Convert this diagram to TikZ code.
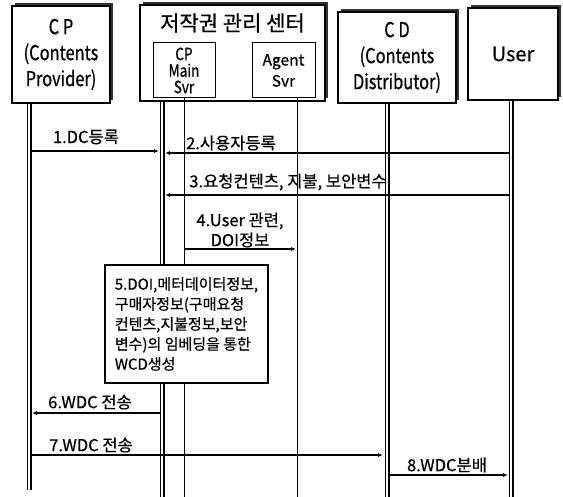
\documentclass[tikz,border=0pt]{standalone}
\usepackage{fontspec}
\setmainfont{Noto Sans CJK KR}[FakeBold=0.6]
\newfontfamily\narrow{Noto Sans CJK KR}[FakeStretch=0.8,FakeBold=0.6]
\usetikzlibrary{arrows.meta}
\begin{document}
\begin{tikzpicture}[x=1pt,y=-1pt,
  actor/.style={draw=black, line width=1.1pt, fill=white, inner sep=0pt, align=center},
  shadowfill/.style={fill=black!80},
  inner/.style={draw=black, line width=1pt, fill=white, inner sep=0pt, align=center},
  bigtxt/.style={font=\narrow\fontsize{20.5}{26}\selectfont},
  lbl/.style={font=\fontsize{16.5}{20}\selectfont, inner sep=0pt},
  thinlife/.style={line width=0.9pt},
  thicklife/.style={line width=1.8pt},
  msg/.style={-{Latex[length=5pt,width=4pt]}},
]
\useasboundingbox (0,0) rectangle (563,497);
\fill[white] (0,0) rectangle (563,497);

% drop shadows (up and to the right)
\fill[shadowfill] (15,3) rectangle (113,100);
\fill[shadowfill] (143,2) rectangle (328,98);
\fill[shadowfill] (341,9) rectangle (459,100);
\fill[shadowfill] (471,5) rectangle (561,97);

% actor boxes
\node[actor, bigtxt, minimum width=98pt, minimum height=97pt] (cp) at (61,54.5) {C P\\(Contents\\Provider)};
\node[actor, minimum width=185pt, minimum height=96pt] (ctr) at (232.5,53) {};
\node[font=\fontsize{21}{22}\selectfont, inner sep=0pt] (ctrt) at (232.5,23) {저작권 관리 센터};
\node[inner, font=\narrow\fontsize{17}{16.5}\selectfont, minimum width=62pt, minimum height=55pt] (cpm) at (184,70.5) {CP\\Main\\Svr};
\node[inner, font=\fontsize{15.5}{21}\selectfont, minimum width=63pt, minimum height=55pt] (ag) at (283.5,70.5) {Agent\\Svr};
\node[actor, bigtxt, minimum width=118pt, minimum height=91pt] (cd) at (397,57.5) {C D\\(Contents\\Distributor)};
\node[actor, font=\fontsize{20}{26}\selectfont, minimum width=90pt, minimum height=92pt] (us) at (513,54) {User};

% lifeline coordinates
\coordinate (cpA) at (27,103.5);  \coordinate (cpAe) at (27,490);
\coordinate (cpB) at (31,103.5);  \coordinate (cpBe) at (31,490);
\coordinate (ctA) at (160,101.5); \coordinate (ctAe) at (160,497);
\coordinate (ctB) at (164,101.5); \coordinate (ctBe) at (164,497);
\coordinate (cmL) at (184,98);    \coordinate (cmLe) at (184,497);
\coordinate (agL) at (297,98);    \coordinate (agLe) at (297,497);
\coordinate (cdA) at (385,103.5); \coordinate (cdAe) at (385,497);
\coordinate (cdB) at (389,103.5); \coordinate (cdBe) at (389,497);
\coordinate (usA) at (509,100.5); \coordinate (usAe) at (509,497);
\coordinate (usB) at (513,100.5); \coordinate (usBe) at (513,497);

\draw[thinlife] (cpA) -- (cpAe);
\draw[thicklife] (cpB) -- (cpBe);
\draw[thinlife] (ctA) -- (ctAe);
\draw[thicklife] (ctB) -- (ctBe);
\draw[thinlife] (cmL) -- (cmLe);
\draw[thinlife] (agL) -- (agLe);
\draw[thinlife] (cdA) -- (cdAe);
\draw[thicklife] (cdB) -- (cdBe);
\draw[thinlife] (usA) -- (usAe);
\draw[thicklife] (usB) -- (usBe);

% message end points
\coordinate (m1s) at (31,151);  \coordinate (m1e) at (159,151);
\coordinate (m2s) at (509,153); \coordinate (m2e) at (165,153);
\coordinate (m3s) at (509,195); \coordinate (m3e) at (165,195);
\coordinate (m4s) at (184,249); \coordinate (m4e) at (296,249);
\coordinate (m6s) at (160,413); \coordinate (m6e) at (32,413);
\coordinate (m7s) at (31,455);  \coordinate (m7e) at (383,455);
\coordinate (m8s) at (389,475); \coordinate (m8e) at (508,475);

\draw[msg, line width=1.3pt] (m1s) -- (m1e);
\draw[msg, line width=2.2pt] (m2s) -- (m2e);
\draw[msg, line width=1.1pt] (m3s) -- (m3e);
\draw[msg, line width=2.2pt] (m4s) -- (m4e);
\draw[msg, line width=1.3pt] (m6s) -- (m6e);
\draw[msg, line width=2.2pt] (m7s) -- (m7e);
\draw[msg, line width=2.2pt] (m8s) -- (m8e);

% labels
\node[lbl] (l1) at (86,137) {1.DC등록};
\node[lbl] (l2) at (231,143) {2.사용자등록};
\node[lbl] (l3) at (288,182) {3.요청컨텐츠, 지불, 보안변수};
\node[lbl, align=center] (l4) at (240,230) {4.User 관련,\\DOI정보};
\node[lbl] (l6) at (90,402) {6.WDC 전송};
\node[lbl] (l7) at (91,445) {7.WDC 전송};
\node[lbl] (l8) at (447,465) {8.WDC분배};

% step 5 box
\node[inner, line width=1.1pt, align=left, font=\fontsize{15}{20}\selectfont,
  minimum width=163pt, minimum height=118pt] (s5) at (186.5,324)
  {5.DOI,메터데이터정보,\\구매자정보(구매요청\\컨텐츠,지불정보,보안\\변수)의 임베딩을 통한\\WCD생성};
\end{tikzpicture}
\end{document}
